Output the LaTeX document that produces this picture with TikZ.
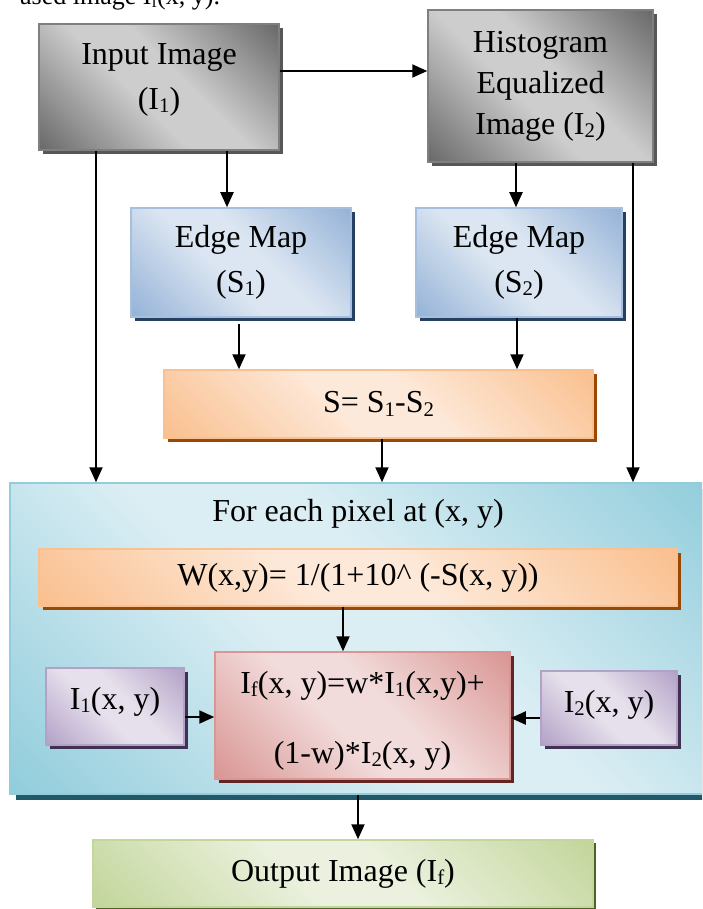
\documentclass[tikz,border=0pt]{standalone}
\usepackage{fontspec}
\usepackage{graphicx}
\setmainfont{Liberation Serif}
\usetikzlibrary{arrows.meta,shadows,calc}

% palette: dark tone, light tone, outline, drop shadow
\definecolor{grayDk}{HTML}{6A6A6A}\definecolor{grayLt}{HTML}{CDCDCD}\definecolor{grayLn}{HTML}{7F7F7F}\definecolor{graySh}{HTML}{575757}
\definecolor{bluDk}{HTML}{95B3D7}\definecolor{bluLt}{HTML}{DCE6F2}\definecolor{bluLn}{HTML}{A7BFDE}\definecolor{bluSh}{HTML}{254061}
\definecolor{orgDk}{HTML}{FAC08F}\definecolor{orgLt}{HTML}{FDE9D9}\definecolor{orgLn}{HTML}{FAC090}\definecolor{orgSh}{HTML}{984807}
\definecolor{tlDk}{HTML}{92CDDC}\definecolor{tlLt}{HTML}{DBEEF4}\definecolor{tlLn}{HTML}{93CDDD}\definecolor{tlSh}{HTML}{215968}
\definecolor{purDk}{HTML}{B3A2C7}\definecolor{purLt}{HTML}{E6E0EC}\definecolor{purLn}{HTML}{B3A2C7}\definecolor{purSh}{HTML}{403152}
\definecolor{redDk}{HTML}{D99694}\definecolor{redLt}{HTML}{F2DCDB}\definecolor{redLn}{HTML}{D99694}\definecolor{redSh}{HTML}{632523}
\definecolor{grnDk}{HTML}{C3D69B}\definecolor{grnLt}{HTML}{EBF1DE}\definecolor{grnLn}{HTML}{C3D69B}\definecolor{grnSh}{HTML}{4F6228}

% dark - light - dark diagonal band
\newcommand\mkdiag[3]{\pgfdeclarehorizontalshading{#1}{100bp}{color(0bp)=(#2); color(15bp)=(#2); color(44bp)=(#3); color(56bp)=(#3); color(85bp)=(#2); color(100bp)=(#2)}}
\mkdiag{graydiag}{grayDk}{grayLt}
\mkdiag{bludiag}{bluDk}{bluLt}
\mkdiag{orgdiag}{orgDk}{orgLt}
\mkdiag{tldiag}{tlDk}{tlLt}
\mkdiag{purdiag}{purDk}{purLt}
\mkdiag{reddiag}{redDk}{redLt}
\mkdiag{grndiag}{grnDk}{grnLt}

\newcommand\sbs[1]{\raisebox{-0.1em}{\scalebox{0.65}{#1}}}

\tikzset{
  x=1pt, y=-1pt,
  panel/.style n args={2}{rectangle, inner sep=0pt, align=center,
    font=\fontsize{32}{45}\selectfont, line width=1.5pt,
    draw=#1Ln, shade, shading=#1diag, shading angle=45,
    general shadow={fill=#1Sh, shadow xshift=#2, shadow yshift=-#2}},
  caption/.style={inner sep=0pt, align=center, font=\fontsize{32}{45}\selectfont},
  arr/.style={line width=2pt, -{Triangle[length=15pt,width=13pt]}},
}

\begin{document}
\begin{tikzpicture}
\useasboundingbox (0,0) rectangle (702,909);
\clip (0,0) rectangle (702,909);

% running text above the chart
\node[anchor=base west, inner sep=0pt, font=\fontsize{26}{26}\selectfont] (cap) at (20,5) {ased image I\sbs{f}(x, y).};

% upper stage
\node[panel={gray}{4pt}, minimum width=240pt, minimum height=126pt] (in) at (159,87) {};
\node[caption] (intext) at (159,80) {Input Image\\(I\sbs{1})};
\node[panel={gray}{4pt}, minimum width=225pt, minimum height=152pt, font=\fontsize{32}{41}\selectfont] (hist) at (540.5,86) {Histogram\\Equalized\\Image (I\sbs{2})};
\node[panel={blu}{4pt}, minimum width=220pt, minimum height=109pt] (eA) at (241,262.5) {Edge Map\\(S\sbs{1})};
\node[panel={blu}{4pt}, minimum width=206pt, minimum height=109pt] (eB) at (519,262.5) {Edge Map\\(S\sbs{2})};
\node[panel={org}{4pt}, minimum width=429pt, minimum height=68pt] (sdiff) at (378.5,404) {S= S\sbs{1}-S\sbs{2}};

% per-pixel loop
\node[panel={tl}{6pt}, minimum width=705pt, minimum height=311pt] (loop) at (362.5,638.5) {};
\node[caption] (looplabel) at (358,514) {For each pixel at (x, y)};
\node[panel={org}{4pt}, minimum width=638pt, minimum height=57pt] (wfun) at (358,577.5) {W(x,y)= 1/(1+10\^{} (-S(x, y))};
\node[panel={red}{4pt}, minimum width=295pt, minimum height=127pt] (fuse) at (362.5,715.5) {};
\node[caption, font=\fontsize{32}{70}\selectfont] (fusetext) at (362.5,720.5) {I\sbs{f}(x, y)=w*I\sbs{1}(x,y)+\\(1-w)*I\sbs{2}(x, y)};
\node[panel={pur}{4pt}, minimum width=138pt, minimum height=77pt] (ia) at (115,706.5) {};
\node[caption] (iatext) at (115,702) {I\sbs{1}(x, y)};
\node[panel={pur}{4pt}, minimum width=136pt, minimum height=74pt] (ib) at (609,708) {};
\node[caption] (ibtext) at (609,705) {I\sbs{2}(x, y)};

% result
\node[panel={grn}{3pt}, minimum width=500pt, minimum height=67pt] (out) at (343,873.5) {Output Image (I\sbs{f})};

% connectors
\draw[arr] ([yshift=16pt]in.east) -- ([yshift=16pt]in.east -| hist.west);
\draw[arr] ([xshift=-63pt]in.south) -- ([xshift=-63pt]in.south |- loop.north);
\draw[arr] ([xshift=68pt]in.south) -- ([xshift=68pt]in.south |- eA.north);
\draw[arr] ([xshift=-24.5pt]hist.south) -- ([xshift=-24.5pt]hist.south |- eB.north);
\draw[arr] ([xshift=92.5pt]hist.south) -- ([xshift=92.5pt]hist.south |- loop.north);
\draw[arr, shorten <=6pt] ([xshift=-2pt]eA.south) -- ([xshift=-2pt]eA.south |- sdiff.north);
\draw[arr] ([xshift=-2pt]eB.south) -- ([xshift=-2pt]eB.south |- sdiff.north);
\draw[arr] ([xshift=3.5pt]sdiff.south) -- ([xshift=3.5pt]sdiff.south |- loop.north);
\draw[arr] ([xshift=-15pt]wfun.south) -- ([xshift=-15pt]wfun.south |- fuse.north);
\draw[arr] ([yshift=-10.5pt]ia.east) -- ([yshift=-10.5pt]ia.east -| fuse.west);
\draw[arr] ([yshift=-10pt]ib.west) -- ([yshift=-10pt]ib.west -| fuse.east);
\draw[arr] ([xshift=-4.5pt]loop.south) -- ([xshift=-4.5pt]loop.south |- out.north);
\end{tikzpicture}
\end{document}
